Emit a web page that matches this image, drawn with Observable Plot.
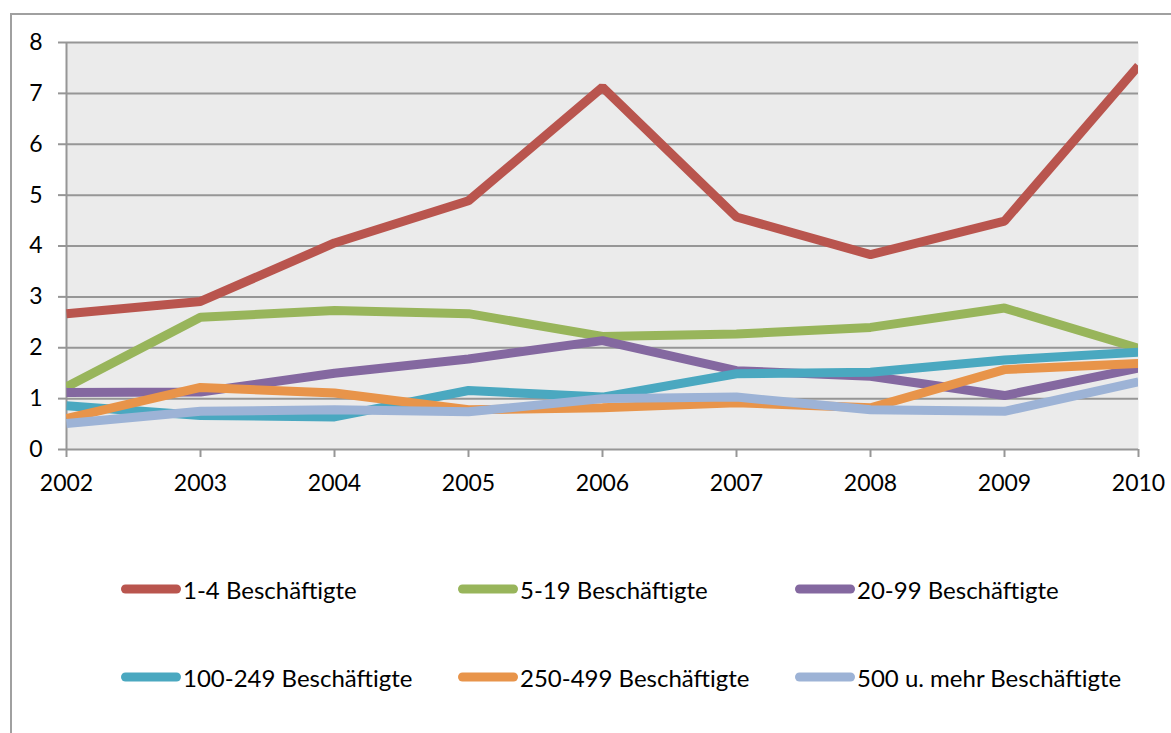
<!DOCTYPE html>
<html>
<head>
<meta charset="utf-8">
<script src="https://cdn.jsdelivr.net/npm/d3@7"></script>
<script src="https://cdn.jsdelivr.net/npm/@observablehq/plot@0.6"></script>
<style>
  html, body { margin: 0; padding: 0; background: #fff; width: 1171px; height: 733px; overflow: hidden; font-family: "Lato", sans-serif; }
  #frame { position: absolute; left: 10px; top: 13px; width: 1300px; height: 900px; border-left: 2px solid #a0a0a0; border-top: 2px solid #a0a0a0; }
  #chart { position: absolute; left: 0; top: 0; }
  .item { position: absolute; display: flex; align-items: center; font-size: 24px; color: #000; white-space: nowrap; transform: translateY(-50%); }
  .sw { width: 60px; height: 9px; border-radius: 4.5px; margin-right: 2px; }
</style>
</head>
<body>
<div id="frame"></div>
<div id="chart"></div>
<div id="legend"></div>
<script>
const years = [2002, 2003, 2004, 2005, 2006, 2007, 2008, 2009, 2010];
const yTicks = [0, 1, 2, 3, 4, 5, 6, 7, 8];
const series = ["1-4 Beschäftigte", "5-19 Beschäftigte", "20-99 Beschäftigte", "100-249 Beschäftigte", "250-499 Beschäftigte", "500 u. mehr Beschäftigte"];
const colors = ["#b9554e", "#98b55b", "#8468a0", "#4aa8c0", "#e8944a", "#9db3d6"];
const v1 = [2.67, 2.91, 4.06, 4.89, 7.12, 4.57, 3.83, 4.49, 7.54];
const v2 = [1.23, 2.60, 2.73, 2.67, 2.22, 2.27, 2.40, 2.78, 1.99];
const v3 = [1.12, 1.13, 1.50, 1.78, 2.14, 1.55, 1.44, 1.06, 1.60];
const v4 = [0.86, 0.67, 0.64, 1.16, 1.03, 1.49, 1.52, 1.76, 1.91];
const v5 = [0.61, 1.22, 1.11, 0.78, 0.82, 0.92, 0.82, 1.57, 1.69];
const v6 = [0.51, 0.75, 0.78, 0.74, 1.00, 1.03, 0.78, 0.75, 1.33];
const values = [v1, v2, v3, v4, v5, v6];

const data = [];
series.forEach((s, i) => years.forEach((y, j) => data.push({series: s, year: y, value: values[i][j]})));

const grid = "#969696";
const chart = Plot.plot({
  width: 1171,
  height: 500,
  marginLeft: 66,
  marginRight: 33,
  marginTop: 42,
  marginBottom: 51,
  style: {fontFamily: "Lato, sans-serif", fontSize: "23px", color: "#000", background: "transparent", overflow: "visible"},
  x: {domain: [2002, 2010], label: null},
  y: {domain: [0, 8], label: null},
  color: {domain: series, range: colors},
  marks: [
    Plot.frame({fill: "#ebebeb", stroke: null}),
    Plot.ruleY(yTicks, {stroke: grid, strokeWidth: 2}),
    Plot.ruleX([2002], {stroke: grid, strokeWidth: 2}),
    Plot.axisY({ticks: yTicks, label: null, tickSize: 8, tickPadding: 16, stroke: grid, strokeWidth: 2, fill: "#000", fontSize: 23, tickFormat: d => String(d)}),
    Plot.axisX({ticks: years, label: null, tickSize: 8, tickPadding: 17, stroke: grid, strokeWidth: 2, fill: "#000", fontSize: 23, tickFormat: d => String(d)}),
    Plot.lineY(data, {x: "year", y: "value", z: "series", stroke: "series", strokeWidth: 9, strokeLinejoin: "miter", strokeLinecap: "butt", clip: true})
  ]
});
document.getElementById("chart").appendChild(chart);

const legendPos = [[121, 589], [458, 589], [795, 589], [121, 677], [458, 677], [795, 677]];
const legend = document.getElementById("legend");
series.forEach((s, i) => {
  const it = document.createElement("div");
  it.className = "item";
  it.style.left = legendPos[i][0] + "px";
  it.style.top = legendPos[i][1] + "px";
  const sw = document.createElement("div");
  sw.className = "sw";
  sw.style.background = colors[i];
  const t = document.createElement("span");
  t.textContent = s;
  it.appendChild(sw);
  it.appendChild(t);
  legend.appendChild(it);
});
</script>
</body>
</html>
